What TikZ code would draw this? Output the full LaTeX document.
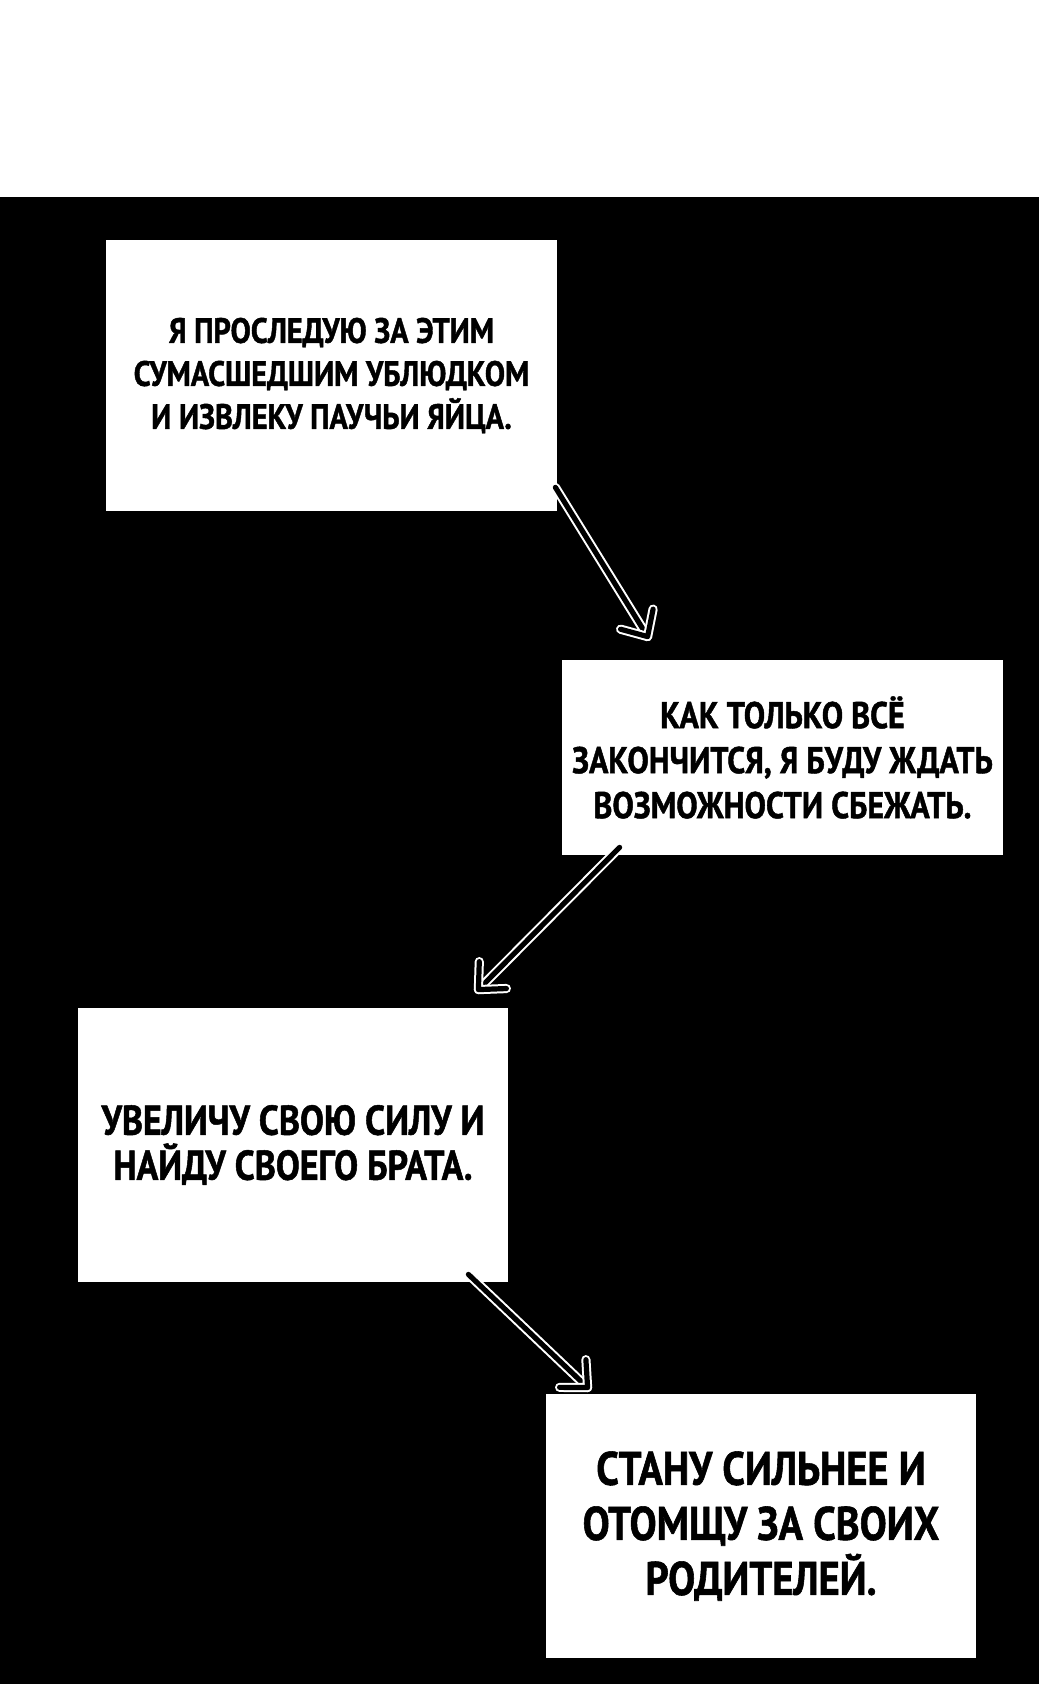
\documentclass[tikz,border=0pt]{standalone}
\usepackage{fontspec}
\setmainfont{PT Sans}[FakeStretch=0.86,BoldFeatures={FakeBold=1.2}]
\usepackage{tikz}
\usetikzlibrary{positioning,calc}

\tikzset{
  panel/.style={rectangle,fill=white,inner sep=0pt,align=center},
  flow/.style={draw=white,double=black,line width=1pt,double distance=2.6pt,line cap=round,line join=round}
}

\begin{document}
\begin{tikzpicture}[x=0.5pt,y=-0.5pt]
\useasboundingbox (0,0) rectangle (1039,1684);
\fill[white] (0,0) rectangle (1039,197);
\fill[black] (0,197) rectangle (1039,1684);

% the four boxes
\node[panel,minimum width=225.5pt,minimum height=135.5pt,font=\fontsize{17.6}{21.5}\selectfont\bfseries] (b1) at (331.5,375.5)
  {Я ПРОСЛЕДУЮ ЗА ЭТИМ\\СУМАСШЕДШИМ УБЛЮДКОМ\\И ИЗВЛЕКУ ПАУЧЬИ ЯЙЦА.};
\node[panel,minimum width=220.5pt,minimum height=97.5pt,font=\fontsize{18.6}{22.5}\selectfont\bfseries] (b2) at (782.5,757.5)
  {КАК ТОЛЬКО ВСЁ\\ЗАКОНЧИТСЯ, Я БУДУ ЖДАТЬ\\ВОЗМОЖНОСТИ СБЕЖАТЬ.};
\node[panel,minimum width=215pt,minimum height=137pt,font=\fontsize{20.8}{22.5}\selectfont\bfseries] (b3) at (293,1145)
  {УВЕЛИЧУ СВОЮ СИЛУ И\\НАЙДУ СВОЕГО БРАТА.};
\node[panel,minimum width=215pt,minimum height=132pt,font=\fontsize{23.5}{27.5}\selectfont\bfseries] (b4) at (761,1526)
  {СТАНУ СИЛЬНЕЕ И\\ОТОМЩУ ЗА СВОИХ\\РОДИТЕЛЕЙ.};

% arrow ends
\coordinate (s1) at ($(b1.south east)+(-2,-24)$);
\coordinate (t1) at ($(b2.north west)+(86,-23)$);
\coordinate (s2) at ($(b2.south west)+(58,-8)$);
\coordinate (t2) at ($(b3.north east)+(-30,-18)$);
\coordinate (s3) at ($(b3.south east)+(-40,-8)$);
\coordinate (t3) at ($(b4.north west)+(42,-6)$);

\foreach \s/\t in {s1/t1,s2/t2,s3/t3}{
  \draw[flow] (\s) -- (\t);
  \draw[flow] ($(\t)!14pt!43:(\s)$) -- (\t) -- ($(\t)!14pt!-43:(\s)$);
}
\end{tikzpicture}
\end{document}
